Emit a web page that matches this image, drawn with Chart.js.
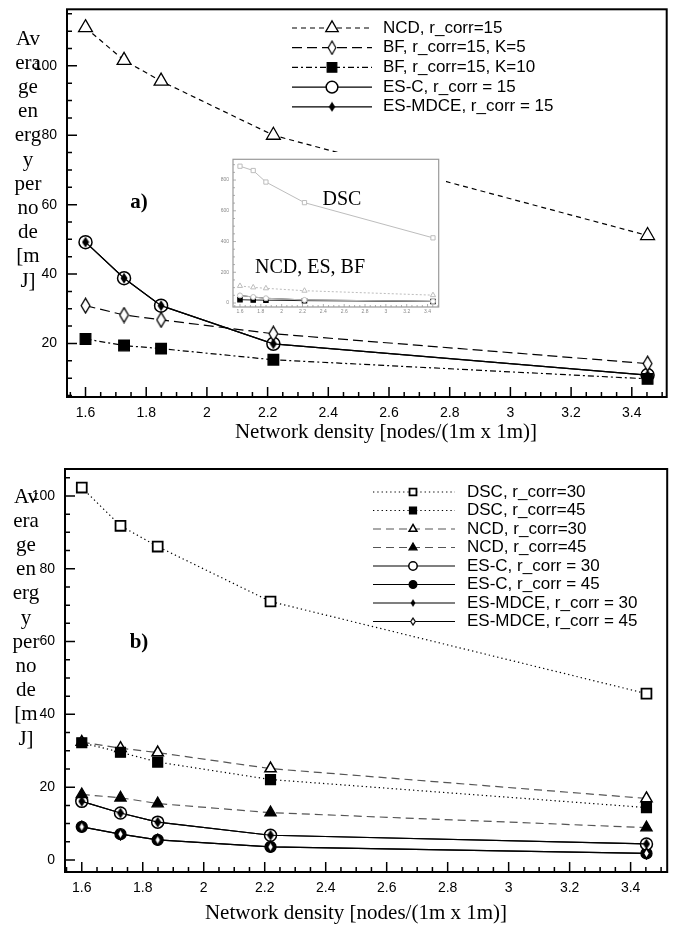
<!DOCTYPE html>
<html>
<head>
<meta charset="utf-8">
<script src="https://cdn.jsdelivr.net/npm/chart.js"></script>
<style>
  html, body { margin: 0; padding: 0; background: #fff; }
  #wrap { position: relative; width: 676px; height: 927px; }
  canvas { position: absolute; }
</style>
</head>
<body>
<div id="wrap">
  <canvas id="chartA" width="676" height="450" style="left:0;top:0"></canvas>
  <canvas id="chartB" width="676" height="467" style="left:0;top:460px"></canvas>
  <canvas id="inset" width="232" height="164" style="left:214px;top:152px"></canvas>
</div>
<script>
// ---- data ----
const density = [1.6, 1.727, 1.849, 2.219, 3.452];

// a) r_corr = 15
const ncd15 = [111.0, 101.6, 95.6, 80.0, 51.1];
const bf15k5 = [30.9, 28.2, 26.8, 22.8, 14.2];
const bf15k10 = [21.3, 19.4, 18.5, 15.3, 9.8];
const esc15 = [49.2, 38.8, 30.9, 19.9, 10.9];
const esmdce15 = [49.2, 38.8, 30.9, 19.9, 10.9];

// inset of a): DSC on a larger scale
const dscInset = [890, 862, 787, 653, 424];

// b) r_corr = 30 / 45
const dsc30 = [102.3, 91.8, 86.1, 71.0, 45.7];
const dsc45 = [32.2, 29.6, 26.9, 22.1, 14.4];
const ncd30 = [32.4, 30.7, 29.5, 25.1, 16.9];
const ncd45 = [18.0, 17.1, 15.5, 13.0, 8.9];
const esc30 = [16.1, 12.9, 10.4, 6.8, 4.4];
const esc45 = [9.1, 7.1, 5.5, 3.6, 1.8];
const esmdce30 = [16.1, 12.9, 10.4, 6.8, 4.4];
const esmdce45 = [9.1, 7.1, 5.5, 3.6, 1.8];

// tick labels
const xTicks = [1.6, 1.8, 2, 2.2, 2.4, 2.6, 2.8, 3, 3.2, 3.4];
const yTicks = [20, 40, 60, 80, 100];
const yTicksB = [0, 20, 40, 60, 80, 100];
const yTicksInset = [0, 200, 400, 600, 800];

const xTitle = "Network density [nodes/(1m x 1m)]";
const yTitleParts = ["Av", "era", "ge", "en", "erg", "y", "per", "no", "de", "[m", "J]"];

Chart.defaults.font.family = "Liberation Sans";
Chart.defaults.color = "#000";

const pts = (ys) => density.map((x, i) => ({ x: x, y: ys[i] }));

// tall diamond marker, drawn once on a small canvas
function diamond(w, h, fill, lw) {
  const c = document.createElement("canvas");
  c.width = w + 2; c.height = h + 2;
  const g = c.getContext("2d");
  g.beginPath();
  g.moveTo(c.width / 2, lw / 2 + 0.5);
  g.lineTo(c.width - lw / 2 - 0.5, c.height / 2);
  g.lineTo(c.width / 2, c.height - lw / 2 - 0.5);
  g.lineTo(lw / 2 + 0.5, c.height / 2);
  g.closePath();
  g.fillStyle = fill; g.fill();
  if (lw > 0) { g.lineWidth = lw; g.strokeStyle = "#000"; g.stroke(); }
  return c;
}

// --- plugins: frame with inward ticks, legend, texts ---
const frameTicks = {
  id: "frameTicks",
  afterDraw(chart, args, o) {
    const { ctx, chartArea: a } = chart;
    const sx = chart.scales.x, sy = chart.scales.y;
    ctx.save();
    ctx.setLineDash([]);
    ctx.strokeStyle = o.color;
    ctx.lineWidth = o.tickWidth;
    ctx.beginPath();
    const doAxis = (s, nMinor, major, minor, horiz) => {
      const vals = s.ticks.map(t => t.value);
      const step = (vals[1] - vals[0]) / (nMinor + 1);
      const start = Math.ceil(s.min / step - 1e-6) * step;
      for (let v = start; v <= s.max + 1e-9; v += step) {
        const isMajor = vals.some(m => Math.abs(m - v) < step / 10);
        const len = isMajor ? major : minor;
        const p = s.getPixelForValue(v);
        if (horiz) { ctx.moveTo(p, a.bottom); ctx.lineTo(p, a.bottom - len); }
        else { ctx.moveTo(a.left, p); ctx.lineTo(a.left + len, p); }
      }
    };
    doAxis(sx, o.xMinor, o.major, o.minor, true);
    doAxis(sy, o.yMinor, o.major, o.minor, false);
    ctx.stroke();
    ctx.lineWidth = o.frameWidth;
    ctx.strokeRect(a.left, a.top, a.right - a.left, a.bottom - a.top);
    ctx.restore();
  }
};

const sideLegend = {
  id: "sideLegend",
  afterDraw(chart, args, o) {
    if (!o.show) return;
    const ctx = chart.ctx;
    chart.data.datasets.forEach((ds, i) => {
      const y = o.y0 + i * o.dy;
      ctx.save();
      ctx.strokeStyle = ds.borderColor;
      ctx.lineWidth = ds.borderWidth;
      ctx.setLineDash(ds.borderDash || []);
      ctx.beginPath(); ctx.moveTo(o.x0, y); ctx.lineTo(o.x1, y); ctx.stroke();
      ctx.setLineDash([]);
      const ps = ds.pointStyle;
      if (typeof ps === "object") {
        const w = ps.width * o.scale, h = ps.height * o.scale;
        ctx.drawImage(ps, o.xm - w / 2, y - h / 2, w, h);
      } else {
        ctx.fillStyle = ds.pointBackgroundColor;
        ctx.strokeStyle = ds.pointBorderColor;
        ctx.lineWidth = ds.pointBorderWidth;
        Chart.helpers.drawPoint(ctx, { pointStyle: ps, radius: ds.pointRadius * o.scale, rotation: 0, borderWidth: ds.pointBorderWidth }, o.xm, y);
      }
      ctx.fillStyle = "#000";
      ctx.font = o.font;
      ctx.textAlign = "left";
      ctx.textBaseline = "middle";
      ctx.fillText(ds.label, o.xt, y);
      ctx.restore();
    });
  }
};

const texts = {
  id: "texts",
  beforeDraw(chart, args, o) {
    if (o.bg) {
      const ctx = chart.ctx;
      ctx.save(); ctx.fillStyle = o.bg; ctx.fillRect(0, 0, chart.width, chart.height); ctx.restore();
    }
  },
  afterDraw(chart, args, o) {
    const ctx = chart.ctx;
    ctx.save();
    ctx.fillStyle = "#000";
    ctx.textAlign = "center";
    ctx.textBaseline = "middle";
    (o.items || []).forEach(t => { ctx.font = t.font; ctx.fillText(t.text, t.x, t.y); });
    if (o.yTitle) {
      ctx.font = o.yTitle.font;
      yTitleParts.forEach((s, i) => ctx.fillText(s, o.yTitle.x, o.yTitle.y0 + i * o.yTitle.dy));
    }
    ctx.restore();
  }
};

function axisX(min, max, ticks, font, pad, height, color) {
  return {
    type: "linear", min: min, max: max,
    afterBuildTicks: s => { s.ticks = ticks.map(v => ({ value: v })); },
    afterFit: s => { s.height = height; s.paddingLeft = 0; s.paddingRight = 0; s.paddingTop = 0; s.paddingBottom = 0; },
    grid: { display: false, drawTicks: false },
    border: { display: false },
    ticks: { font: font, padding: pad, color: color || "#000", maxRotation: 0, autoSkip: false, callback: v => String(v) }
  };
}
function axisY(min, max, ticks, font, pad, width, color) {
  return {
    type: "linear", min: min, max: max,
    afterBuildTicks: s => { s.ticks = ticks.map(v => ({ value: v })); },
    afterFit: s => { s.width = width; s.paddingLeft = 0; s.paddingRight = 0; s.paddingTop = 0; s.paddingBottom = 0; },
    grid: { display: false, drawTicks: false },
    border: { display: false },
    ticks: { font: font, padding: pad, color: color || "#000", autoSkip: false, callback: v => String(v) }
  };
}

function ds(label, ys, o) {
  return Object.assign({
    label: label, data: pts(ys), showLine: true, tension: 0,
    borderColor: "#000", borderWidth: 1.2, borderDash: [],
    pointBorderColor: "#000", pointBackgroundColor: "#fff", pointBorderWidth: 1.3,
    pointRadius: 6, pointHoverRadius: 6
  }, o);
}

const tickFont = { size: 14 };
const serif = "Liberation Serif";

// ---------- a) ----------
new Chart(document.getElementById("chartA"), {
  type: "scatter",
  data: {
    datasets: [
      ds("NCD, r_corr=15", ncd15, { borderDash: [5, 4], pointStyle: "triangle", pointRadius: 8 }),
      ds("BF, r_corr=15, K=5", bf15k5, { borderDash: [10, 5], pointStyle: diamond(9, 15, "#fff", 1.3) }),
      ds("BF, r_corr=15, K=10", bf15k10, { borderDash: [6, 3, 2, 3], pointStyle: "rect", pointRadius: 7.5, pointBackgroundColor: "#000" }),
      ds("ES-C, r_corr = 15", esc15, { pointStyle: "circle", pointRadius: 6.5, pointBorderWidth: 1.5 }),
      ds("ES-MDCE, r_corr = 15", esmdce15, { pointStyle: diamond(6, 10, "#000", 0), order: -1 })
    ]
  },
  options: {
    responsive: false, animation: false,
    layout: { padding: { left: 0, top: 6, right: 6, bottom: 0 } },
    scales: {
      x: axisX(1.539, 3.515, xTicks, tickFont, 8, 53),
      y: axisY(4.57, 116.3, yTicks, tickFont, 10, 67)
    },
    plugins: {
      legend: { display: false }, tooltip: { enabled: false },
      frameTicks: { color: "#000", tickWidth: 1.5, frameWidth: 2, major: 10, minor: 5, xMinor: 3, yMinor: 3 },
      sideLegend: { show: true, x0: 292, x1: 372, xm: 332, xt: 383, y0: 28, dy: 19.7, scale: 0.9, font: "17px 'Liberation Sans'" },
      texts: {
        items: [
          { text: "a)", x: 139, y: 203, font: "bold 21px '" + serif + "'" },
          { text: xTitle, x: 386, y: 432, font: "21px '" + serif + "'" }
        ],
        yTitle: { x: 28, y0: 39, dy: 24.2, font: "21px '" + serif + "'" }
      }
    }
  },
  plugins: [texts, frameTicks, sideLegend]
});

// ---------- inset of a) ----------
const gray = "#bdbdbd";
new Chart(document.getElementById("inset"), {
  type: "scatter",
  data: {
    datasets: [
      ds("DSC", dscInset, { borderColor: gray, borderWidth: 1, pointStyle: "rect", pointRadius: 3, pointBorderColor: gray, pointBorderWidth: 1 }),
      ds("NCD", ncd15, { borderColor: gray, borderWidth: 1, borderDash: [2, 2], pointStyle: "triangle", pointRadius: 3, pointBorderColor: gray, pointBorderWidth: 1 }),
      ds("ES-C", esc15, { borderColor: gray, borderWidth: 1, pointStyle: "circle", pointRadius: 2.5, pointBorderColor: gray, pointBorderWidth: 1 }),
      ds("BF", bf15k10, { borderColor: "#222", borderWidth: 1, pointStyle: "rect", pointRadius: 3, pointBackgroundColor: "#000" }),
      ds("ES-MDCE", esmdce15, { borderColor: "#222", borderWidth: 1, pointStyle: "circle", pointRadius: 0, pointBackgroundColor: "#000" })
    ]
  },
  options: {
    responsive: false, animation: false,
    layout: { padding: { left: 0, top: 6, right: 6, bottom: 0 } },
    scales: {
      x: axisX(1.533, 3.507, xTicks, { size: 5 }, 2, 9, "#888"),
      y: axisY(-26, 935, yTicksInset, { size: 5 }, 4, 19, "#888")
    },
    plugins: {
      legend: { display: false }, tooltip: { enabled: false },
      frameTicks: { color: "#999", tickWidth: 0.8, frameWidth: 1.2, major: 3, minor: 2, xMinor: 3, yMinor: 3 },
      sideLegend: { show: false },
      texts: {
        bg: "#fff",
        items: [
          { text: "DSC", x: 128, y: 48, font: "20px '" + serif + "'" },
          { text: "NCD, ES, BF", x: 96, y: 116, font: "20px '" + serif + "'" }
        ]
      }
    }
  },
  plugins: [texts, frameTicks, sideLegend]
});

// ---------- b) ----------
const ncdGray = "#555";
new Chart(document.getElementById("chartB"), {
  type: "scatter",
  data: {
    datasets: [
      ds("DSC, r_corr=30", dsc30, { borderDash: [1.3, 3], pointStyle: "rect", pointRadius: 7, pointBorderWidth: 1.8 }),
      ds("DSC, r_corr=45", dsc45, { borderDash: [1.3, 3], pointStyle: "rect", pointRadius: 7, pointBackgroundColor: "#000" }),
      ds("NCD, r_corr=30", ncd30, { borderColor: ncdGray, borderDash: [8, 5], pointStyle: "triangle", pointRadius: 6.5, pointBorderWidth: 1.5 }),
      ds("NCD, r_corr=45", ncd45, { borderColor: ncdGray, borderDash: [8, 5], pointStyle: "triangle", pointRadius: 6.5, pointBackgroundColor: "#000" }),
      ds("ES-C, r_corr = 30", esc30, { pointStyle: "circle", pointRadius: 6, pointBorderWidth: 1.5 }),
      ds("ES-C, r_corr = 45", esc45, { pointStyle: "circle", pointRadius: 5.5, pointBackgroundColor: "#000" }),
      ds("ES-MDCE, r_corr = 30", esmdce30, { pointStyle: diamond(6, 10, "#000", 0), order: -1 }),
      ds("ES-MDCE, r_corr = 45", esmdce45, { pointStyle: diamond(7, 11, "#fff", 1.6), order: -1 })
    ]
  },
  options: {
    responsive: false, animation: false,
    layout: { padding: { left: 0, top: 9, right: 4, bottom: 0 } },
    scales: {
      x: axisX(1.545, 3.52, xTicks, tickFont, 8, 55),
      y: axisY(-3.3, 107.4, yTicksB, tickFont, 10, 65)
    },
    plugins: {
      legend: { display: false }, tooltip: { enabled: false },
      frameTicks: { color: "#000", tickWidth: 1.5, frameWidth: 2, major: 10, minor: 5, xMinor: 3, yMinor: 3 },
      sideLegend: { show: true, x0: 373, x1: 455, xm: 413, xt: 467, y0: 32, dy: 18.5, scale: 0.7, font: "17px 'Liberation Sans'" },
      texts: {
        items: [
          { text: "b)", x: 139, y: 183, font: "bold 21px '" + serif + "'" },
          { text: xTitle, x: 356, y: 453, font: "21px '" + serif + "'" }
        ],
        yTitle: { x: 26, y0: 37, dy: 24.2, font: "21px '" + serif + "'" }
      }
    }
  },
  plugins: [texts, frameTicks, sideLegend]
});
</script>
</body>
</html>
